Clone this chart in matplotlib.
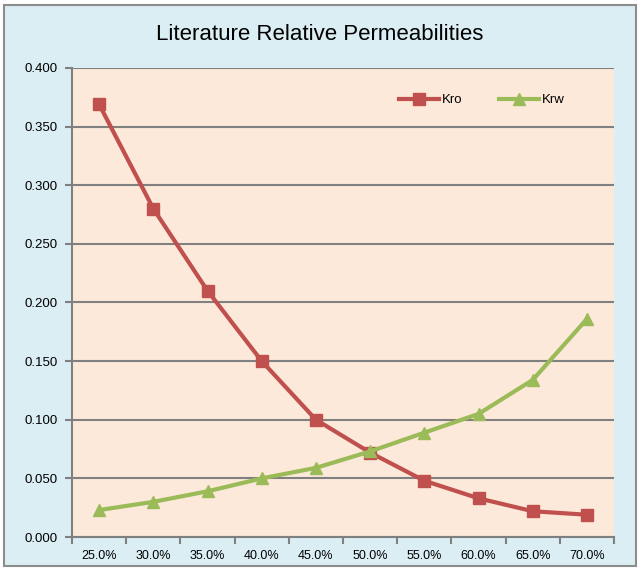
import numpy as np
import matplotlib.pyplot as plt
from matplotlib.patches import Rectangle

plt.rcParams['font.family'] = ['Liberation Sans Narrow', 'Liberation Sans', 'DejaVu Sans']

sat = ["25.0%", "30.0%", "35.0%", "40.0%", "45.0%", "50.0%", "55.0%", "60.0%", "65.0%", "70.0%"]
kro = [0.369, 0.280, 0.210, 0.150, 0.100, 0.072, 0.048, 0.033, 0.022, 0.019]
krw = [0.023, 0.030, 0.039, 0.050, 0.059, 0.073, 0.089, 0.105, 0.134, 0.186]

fig = plt.figure(figsize=(6.4, 5.71), dpi=100)
fig.patch.set_facecolor('white')
fig.patches.append(Rectangle((0.006, 0.008), 0.988, 0.984, transform=fig.transFigure,
                             facecolor='#DBEEF4', edgecolor='#8c8c8c', linewidth=1.5, zorder=-10))

ax = fig.add_axes([0.1125, 0.0595, 0.847, 0.8215])
ax.set_facecolor('#FDE9D9')

x = np.arange(len(sat)) + 0.5
ax.plot(x, kro, color='#C0504D', lw=3, marker='s', ms=8, label='Kro')
ax.plot(x, krw, color='#9BBB59', lw=3, marker='^', ms=8, label='Krw')

ax.set_xlim(0, len(sat))
ax.set_ylim(0, 0.4)
ax.set_yticks(np.arange(0, 0.401, 0.05))
ax.set_yticklabels([f"{v:.3f}" for v in np.arange(0, 0.401, 0.05)], fontsize=9.5)
ax.set_xticks(np.arange(len(sat) + 1))
ax.set_xticklabels([])
ax.set_xticks(x, minor=True)
ax.set_xticklabels(sat, minor=True, fontsize=9)
ax.tick_params(axis='x', which='minor', length=0, pad=9)
ax.tick_params(axis='x', which='major', length=5, color='#808080', width=1.5)
ax.tick_params(axis='y', length=5, color='#808080', width=1.5, pad=5)
ax.grid(axis='y', color='#808080', lw=1.5)
ax.set_axisbelow(True)
for s in ['top', 'right']:
    ax.spines[s].set_visible(False)
for s in ['left', 'bottom']:
    ax.spines[s].set_color('#808080')
    ax.spines[s].set_linewidth(1.5)

ax.legend(loc='upper right', bbox_to_anchor=(0.93, 0.97), ncol=2, frameon=False,
          fontsize=9.5, handlelength=3, columnspacing=2.8, handletextpad=0.2)

fig.text(0.5, 0.94, "Literature Relative Permeabilities", ha='center', va='center', fontsize=16)

plt.savefig("out.png", dpi=100)
